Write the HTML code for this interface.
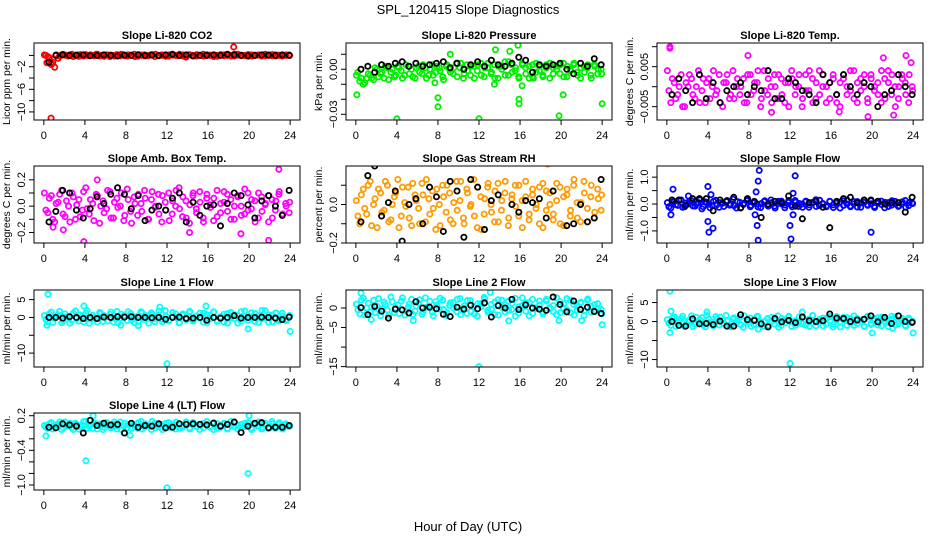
<!DOCTYPE html>
<html><head><meta charset="utf-8">
<style>
body{margin:0;background:#fff;}
svg{display:block;font-family:"Liberation Sans",sans-serif;}
</style></head>
<body>
<svg id="chart" width="936" height="540" viewBox="0 0 936 540" xmlns="http://www.w3.org/2000/svg">
<rect width="936" height="540" fill="#fff"/>
<text x="468" y="14" font-size="13" text-anchor="middle">SPL_120415  Slope Diagnostics</text>
<text x="468" y="531" font-size="13" text-anchor="middle">Hour of Day (UTC)</text>
</svg>
<script>
const xTicks = [0,4,8,12,16,20,24];

const co2Color = [0.1,-0.2,-1.6,-2.1,-0.5,0.1,0.05,-0.1,0.2,0.0,-0.15,0.1,0.15,-0.05,0.0,0.2,-0.1,0.05,0.1,-0.2,0.0,0.15,-0.05,0.1,-0.1,0.05,0.2,-0.15,0.0,0.1,-0.05,0.15,-0.2,0.0,0.1,0.05,-0.1,0.2,0.0,-0.05,0.1,-0.3,0.15,0.0,-0.1,0.05,0.2,-0.05,0.0,0.1,-0.15,0.05,0.1,0.0,-0.1,0.2,0.05,-0.05,0.0,0.15,-0.1,0.05,0.1,0.0,-0.05,0.1,0.15,-0.1,0.0,0.05,0.1,0.0];
const co2ColorB = [0.0,-0.4,-1.2,0.1,-0.1,0.2,0.0,0.1,-0.2,0.05,0.15,-0.1,0.0,0.1,-0.05,0.2,0.0,-0.15,0.1,0.05,-0.1,0.0,0.2,-0.05,0.1,0.0,-0.2,0.15,0.05,-0.1,0.0,0.1,0.2,-0.05,0.0,-0.15,0.1,0.05,0.0,0.2,-0.1,0.0,0.1,-0.05,0.15,0.0,-0.1,0.1,0.05,-0.2,0.0,0.15,-0.05,0.1,0.0,-0.1,0.2,0.05,0.0,-0.15,0.1,0.0,0.05,-0.1,0.2,0.0,-0.05,0.1,0.05,-0.1,0.0,0.1];
const co2Black = [-1.2,0.0,0.1,0.0,0.05,0.1,-0.05,0.0,0.1,0.0,-0.1,0.05,0.0,0.1,0.0,0.05,-0.05,0.1,0.2,0.0,0.1,-0.1,0.0,0.05,0.1,0.0,0.2,0.1,0.0,-0.05,0.0,0.1,0.05,0.0,0.1,0.0];
const co2Out = [[0.7,-11.1],[18.5,1.5],[0.3,-1.3],[0.7,-1.4]];

const presColor = [-0.004,-0.008,-0.01,-0.006,-0.004,-0.007,0.0,-0.003,-0.006,0.001,-0.002,-0.005,0.002,-0.001,-0.004,0.002,0.0,-0.006,0.002,-0.003,0.001,-0.004,0.003,-0.002,0.001,-0.005,0.002,0.0,-0.003,0.004,0.001,-0.006,0.003,-0.004,0.002,-0.001,0.004,-0.005,0.001,-0.003,0.003,-0.006,0.002,0.005,-0.004,0.003,-0.001,-0.005,0.004,0.001,-0.006,0.003,-0.002,0.002,-0.005,0.001,0.004,-0.003,0.0,0.003,-0.005,0.002,-0.001,0.004,-0.004,0.001,-0.002,0.003,-0.006,0.002,0.0,-0.003];
const presColorB = [-0.002,-0.006,-0.009,-0.003,-0.006,0.001,-0.005,-0.002,0.002,-0.007,0.0,-0.004,0.001,-0.006,0.003,-0.003,-0.005,0.001,-0.002,0.003,-0.006,0.0,-0.004,0.002,-0.001,-0.007,0.003,-0.002,0.001,-0.005,0.004,-0.003,-0.001,0.002,-0.006,0.003,-0.004,0.001,0.004,-0.002,-0.006,0.002,0.0,-0.004,0.005,-0.002,0.001,-0.006,0.003,-0.003,0.002,-0.005,0.004,-0.001,-0.004,0.003,-0.006,0.001,0.002,-0.003,0.004,-0.005,0.0,0.003,-0.002,-0.006,0.002,0.001,-0.004,0.003,-0.003,0.0];
const presBlack = [0.0,0.002,-0.002,0.003,0.002,0.004,0.005,0.002,0.004,0.002,0.003,0.004,0.005,0.001,0.004,0.0,0.003,0.005,0.002,0.006,0.003,0.002,0.004,0.008,0.006,-0.002,0.003,0.002,0.003,0.004,0.0,-0.003,0.004,0.002,0.007,0.003];
const presOut = [[0.1,-0.017],[4,-0.033],[8,-0.019],[8,-0.025],[12,-0.033],[13.6,0.013],[15,0.012],[15.9,-0.02],[15.9,-0.023],[19.8,-0.031],[20.2,-0.017],[24,-0.023],[9.2,0.01],[15.8,0.016],[13.5,-0.01],[16.2,-0.011],[7.7,-0.009],[17.3,-0.006]];

const tempColor = [0.004,-0.004,0.001,-0.002,0.003,-0.005,0.0,0.002,-0.003,0.004,-0.001,-0.004,0.002,0.0,-0.002,0.003,-0.005,0.001,-0.003,0.004,0.0,-0.002,0.002,-0.004,0.003,-0.001,0.001,-0.005,0.004,-0.002,0.0,0.003,-0.003,0.002,-0.004,0.001,0.004,-0.002,0.0,-0.005,0.003,-0.001,0.002,-0.003,0.004,0.0,-0.004,0.001,0.003,-0.002,-0.005,0.002,0.0,0.004,-0.003,0.001,-0.001,0.003,-0.004,0.002,0.0,-0.002,0.004,-0.003,0.001,0.003,-0.005,0.0,0.002,-0.002,0.003,-0.001];
const tempColorB = [-0.001,0.002,-0.003,0.0,-0.005,0.001,0.003,-0.002,0.0,-0.004,0.002,0.001,-0.003,0.004,-0.001,-0.004,0.001,0.003,-0.002,-0.003,0.002,0.0,-0.004,0.003,-0.002,0.001,0.004,-0.003,-0.001,0.002,-0.004,0.0,0.003,-0.002,0.001,-0.005,0.002,0.0,0.003,-0.003,-0.001,0.004,-0.004,0.001,-0.002,0.003,0.0,-0.003,0.002,-0.004,0.001,0.003,-0.002,-0.001,0.004,-0.004,0.002,0.0,-0.003,0.003,-0.001,0.001,-0.004,0.002,0.004,-0.002,0.0,-0.003,0.003,0.001,-0.004,0.0];
const tempBlack = [-0.002,0.002,-0.001,-0.004,0.003,-0.003,0.001,-0.004,-0.001,0.0,0.001,-0.002,0.0,-0.001,0.004,-0.003,-0.003,0.002,0.001,-0.001,-0.002,-0.004,0.003,0.001,-0.002,0.003,0.0,-0.002,0.001,0.0,-0.005,-0.002,-0.001,0.003,0.0,-0.002];
const tempOut = [[0.3,0.0100],[0.3,0.0096],[7.9,0.0078],[21.1,0.0072],[19.6,-0.0075],[23.3,0.0078],[23.8,0.006],[10.2,-0.0064],[16.8,-0.0063],[22.1,-0.0071]];

const ambColor = [0.1,-0.05,0.08,-0.12,0.03,0.12,-0.08,0.0,0.1,-0.1,0.05,-0.03,0.14,-0.06,0.02,0.09,-0.13,0.04,-0.02,0.11,-0.09,0.06,0.0,-0.11,0.13,-0.04,0.07,-0.07,0.02,0.12,-0.1,0.05,-0.01,0.09,-0.12,0.03,0.1,-0.06,0.0,0.14,-0.08,0.04,-0.13,0.08,-0.02,0.11,-0.09,0.06,0.01,-0.11,0.12,-0.05,0.03,0.09,-0.1,0.0,0.07,-0.07,0.13,-0.03,0.05,-0.12,0.1,-0.04,0.02,0.08,-0.09,0.04,0.11,-0.06,0.0,0.03];
const ambColorB = [-0.03,0.06,-0.1,0.02,0.09,-0.06,0.04,-0.12,0.07,0.01,-0.08,0.11,-0.02,0.05,-0.11,0.08,0.0,-0.05,0.12,-0.09,0.03,-0.01,0.1,-0.07,0.05,-0.13,0.02,0.09,-0.04,0.06,-0.1,0.11,0.0,-0.06,0.08,-0.03,-0.11,0.04,0.12,-0.02,0.07,-0.09,0.01,0.1,-0.05,0.03,-0.12,0.09,-0.01,0.06,-0.08,0.02,0.11,-0.04,0.05,-0.1,0.08,0.0,-0.06,0.1,-0.02,0.04,-0.09,0.07,0.01,-0.12,0.05,-0.03,0.09,-0.07,0.02,-0.05];
const ambBlack = [-0.12,-0.04,0.12,0.1,-0.03,-0.09,-0.02,0.07,0.02,0.09,0.14,0.09,-0.02,0.08,-0.11,-0.03,0.0,-0.03,0.06,0.1,-0.12,0.03,-0.07,0.0,0.01,-0.15,0.02,0.1,0.08,0.01,-0.09,0.04,0.08,0.0,-0.07,0.12];
const ambOut = [[3.9,-0.27],[22.9,0.28],[21.9,-0.26],[5.2,0.2],[19.2,-0.21],[0.9,-0.16],[1.9,-0.18],[14.2,-0.2]];

const rhColor = [0.02,-0.1,0.08,-0.05,0.12,0.0,-0.12,0.06,-0.03,0.1,-0.08,0.04,0.13,-0.06,0.01,0.09,-0.11,0.05,-0.02,0.11,-0.09,0.03,0.07,-0.13,0.0,0.1,-0.04,0.06,-0.1,0.12,0.02,-0.07,0.08,-0.01,0.13,-0.12,0.04,-0.05,0.09,0.0,-0.09,0.11,-0.03,0.06,-0.11,0.03,0.1,-0.06,0.02,0.12,-0.08,0.05,-0.02,0.09,-0.12,0.07,0.0,-0.05,0.11,-0.1,0.04,0.08,-0.03,0.13,-0.07,0.01,0.06,-0.09,0.1,-0.04,0.03,0.05];
const rhColorB = [-0.06,0.05,-0.02,0.1,-0.11,0.03,0.08,-0.04,0.12,-0.09,0.0,0.06,-0.12,0.09,-0.01,-0.07,0.11,0.02,-0.1,0.05,0.13,-0.05,-0.02,0.08,-0.11,0.04,0.1,-0.08,0.01,-0.03,0.12,-0.1,0.06,0.0,-0.06,0.09,-0.13,0.03,0.11,-0.04,0.07,-0.09,0.02,0.12,-0.07,0.05,-0.01,0.1,-0.12,0.04,-0.05,0.08,0.0,-0.1,0.11,-0.03,0.06,-0.08,0.02,0.09,-0.11,0.05,-0.06,0.1,0.01,-0.09,0.12,-0.02,0.04,-0.07,0.08,-0.03];
const rhBlack = [-0.09,0.15,0.2,-0.06,0.01,0.07,-0.19,0.0,0.03,-0.1,0.09,0.04,-0.14,0.12,0.07,-0.17,0.13,0.09,-0.13,0.02,0.05,-0.24,0.0,-0.04,0.02,0.01,0.03,-0.07,0.07,-0.22,-0.11,-0.1,0.0,-0.09,-0.07,0.13];
const rhOut = [[0.6,0.22],[11.5,0.25],[14.7,-0.27],[16.6,-0.26],[21.9,0.23],[18.7,0.21],[5.2,-0.25],[11.4,-0.24]];

const sfColor = [0.05,-0.15,0.1,-0.05,0.15,-0.1,0.0,0.12,-0.08,0.05,-0.18,0.08,0.0,-0.06,0.14,-0.12,0.03,0.1,-0.04,0.18,-0.15,0.06,-0.02,0.12,-0.1,0.04,0.0,-0.13,0.09,-0.05,0.15,-0.08,0.02,0.11,-0.14,0.06,-0.03,0.13,-0.09,0.0,0.08,-0.12,0.05,0.16,-0.06,0.02,-0.1,0.1,-0.03,0.07,-0.15,0.12,0.0,-0.07,0.09,-0.11,0.04,0.14,-0.05,0.01,-0.13,0.1,-0.02,0.06,-0.09,0.12,0.0,-0.06,0.08,-0.12,0.05,0.02];
const sfColorB = [-0.1,0.08,-0.02,0.14,-0.12,0.04,0.1,-0.07,0.0,0.15,-0.1,0.06,-0.14,0.1,-0.03,0.05,-0.09,0.13,0.0,-0.06,0.09,-0.13,0.03,0.16,-0.05,0.08,-0.11,0.02,0.12,-0.08,0.05,-0.15,0.1,0.0,-0.04,0.13,-0.1,0.07,0.02,-0.12,0.11,-0.03,0.06,-0.09,0.14,0.0,-0.07,0.1,-0.13,0.04,0.08,-0.05,0.15,-0.1,0.01,0.09,-0.12,0.06,-0.02,0.12,-0.08,0.03,0.11,-0.14,0.05,-0.04,0.1,-0.09,0.0,0.13,-0.06,0.04];
const sfBlack = [0.15,0.15,-0.05,0.2,0.2,0.2,-0.25,0.15,0.1,0.25,-0.15,0.2,0.1,-0.5,0.0,0.1,0.05,0.3,-0.08,-0.55,0.05,0.1,-0.12,-0.88,0.1,0.2,0.25,0.05,0.15,0.15,0.1,0.0,0.05,0.05,-0.3,0.25];
const sfOut = [[0.4,-0.4],[0.6,0.55],[4,0.65],[4,-0.65],[4.1,-1.05],[4.5,-0.9],[8.7,0.45],[8.9,0.85],[9,1.25],[8.9,-1.35],[8.8,-0.8],[8.6,-0.4],[12,-0.8],[12.1,-1.3],[12.5,1.05],[12.3,-0.4],[19.9,-1.05],[12.3,0.4],[2.1,0.3],[4.3,0.35]];

const l1Color = [0.5,-1.2,1.5,-0.3,0.8,-1.5,1.0,0.0,-0.8,1.8,-1.0,0.3,1.2,-1.6,0.6,-0.4,1.4,-1.1,0.2,0.9,-1.3,1.7,-0.2,0.5,-0.9,1.1,-1.4,0.4,1.6,-0.6,0.0,1.3,-1.2,0.7,-0.5,1.9,-1.0,0.2,1.0,-1.5,0.6,-0.1,1.5,-0.8,0.3,1.2,-1.3,0.8,-0.4,1.6,-1.1,0.1,0.9,-1.6,1.4,-0.3,0.5,-1.0,1.8,-0.7,0.2,1.1,-1.4,2.0,-0.2,0.7,-1.2,1.3,-0.5,0.4,-0.9,0.6];
const l1ColorB = [-0.6,1.0,-1.4,0.4,1.7,-0.9,0.2,-1.6,1.2,-0.3,0.7,-1.2,1.9,-0.5,0.0,-1.3,1.1,0.5,-1.0,1.5,-0.2,-1.5,0.9,0.3,1.6,-0.8,0.1,-1.1,1.3,0.6,-1.6,0.8,-0.4,1.8,-1.2,0.3,-0.7,1.4,0.0,-1.4,1.0,-0.6,1.7,-1.0,0.4,-0.2,1.2,-1.5,0.6,1.5,-0.9,0.2,-1.3,1.1,-0.1,0.8,-1.6,1.6,0.3,-0.8,1.3,-1.1,0.5,-0.4,1.9,-1.3,0.7,0.0,-1.0,1.2,-0.6,0.2];
const l1Black = [0.0,0.0,-0.2,0.2,0.0,-0.3,0.0,-0.3,0.1,0.0,0.2,0.1,0.2,0.0,0.0,-0.1,0.0,-0.5,0.0,0.1,-0.3,-0.2,0.0,-0.8,0.0,-0.2,0.0,0.5,-0.2,0.0,0.0,0.1,0.0,-0.2,-0.6,0.1];
const l1Out = [[0.4,6.5],[0.3,-2.2],[12,-13],[11.3,2.9],[19.9,-3.2],[24,-3.9],[3.9,3.2],[15.8,3.2],[7.5,-2.2],[9.2,-2.3]];

const l2Color = [1.0,-1.5,2.5,0.0,-1.0,2.0,0.5,-2.0,1.5,-0.5,2.8,-1.2,0.8,1.8,-1.8,0.2,2.2,-0.8,1.2,-1.6,2.6,0.4,-1.1,1.6,-0.3,2.0,-1.9,0.7,1.4,-0.9,2.4,0.0,-1.4,1.9,0.3,-2.1,1.1,2.7,-0.6,0.9,-1.7,2.1,0.2,-1.0,1.7,-0.4,2.5,-1.3,0.6,1.3,-2.0,2.2,-0.2,0.8,-1.5,1.8,0.1,-0.9,2.6,-1.2,1.0,-0.5,2.0,-1.8,0.5,1.5,-0.7,2.3,-1.1,0.9,-0.2,-1.5];
const l2ColorB = [-0.5,2.0,-1.8,1.2,0.3,-1.2,2.4,-0.2,0.9,-1.9,1.6,0.0,-1.4,2.6,-0.7,1.0,-1.6,0.5,2.1,-1.0,0.2,1.7,-2.0,0.8,2.5,-0.4,-1.3,1.3,0.0,2.2,-1.7,0.6,1.9,-0.9,-1.5,1.1,0.4,2.3,-1.1,-0.3,1.5,-1.8,2.0,0.7,-0.6,1.2,-2.1,0.3,2.6,-0.8,1.4,-1.4,0.1,1.8,-1.0,2.2,-0.2,0.6,-1.7,1.6,0.0,2.4,-1.2,0.9,-0.5,1.3,-1.9,2.0,0.4,-0.9,1.1,-0.4];
const l2Black = [0.1,-1.7,0.4,-0.8,-2.6,-0.3,-0.5,-1.3,1.6,0.0,0.2,-0.2,-1.6,-2.2,0.2,-0.3,0.7,-0.2,1.3,-2.3,0.6,0.0,2.2,-0.4,0.8,0.0,-0.3,-0.6,2.8,0.9,-1.0,1.8,-0.4,0.2,-0.9,-1.4];
const l2Out = [[0.5,3.8],[13.1,4],[12,-15],[24,-4.3],[1.5,-3],[5.6,-3.2],[14.9,-3.3],[22,-3.2],[19.8,-3.2]];

const l3Color = [0.5,-1.0,1.2,-0.3,0.8,-1.3,0.2,1.5,-0.7,0.0,1.0,-1.4,0.6,-0.2,1.3,-0.9,0.3,1.6,-1.1,0.7,-0.5,1.1,-1.5,0.4,0.9,-0.8,1.4,-0.1,-1.2,0.8,0.1,-0.6,1.5,-1.0,0.5,1.2,-1.3,0.2,-0.4,1.0,-0.9,0.6,1.6,-1.1,0.0,0.9,-0.7,1.3,-1.4,0.4,-0.2,1.1,-1.0,0.7,1.5,-0.5,0.2,-1.3,1.2,-0.8,0.3,1.0,-1.1,0.6,-0.3,1.4,-0.9,0.1,0.8,-1.2,0.5,0.0];
const l3ColorB = [-0.4,0.9,-1.2,0.3,1.4,-0.6,0.0,-1.3,1.1,0.5,-0.9,1.6,-0.2,-1.1,0.7,1.2,-0.5,0.2,-1.4,1.0,0.4,-0.8,1.5,-0.1,-1.2,0.6,1.3,-0.7,0.1,-1.0,1.1,0.4,-1.5,0.8,-0.3,1.4,0.0,-0.9,1.2,-0.6,0.3,-1.3,1.6,-0.2,0.6,-1.1,0.9,0.2,-0.7,1.3,-1.4,0.5,1.0,-0.4,-1.0,0.8,0.1,-1.2,1.4,-0.5,0.7,-0.9,1.1,0.0,-1.3,0.6,1.2,-0.6,0.3,-1.0,0.9,-0.3];
const l3Black = [0.0,-1.0,-1.2,0.7,-0.6,-0.5,-0.8,0.1,-1.2,-1.2,1.8,0.5,0.3,-0.6,-1.4,0.8,-0.1,0.3,-0.3,1.2,0.2,0.0,0.2,2.0,0.9,0.8,0.0,0.4,0.6,1.5,-0.1,1.1,-0.5,1.5,0.0,-0.2];
const l3Out = [[0.3,8],[0.3,-2.9],[0.4,2.7],[12,-11],[20,-3],[24,-3],[8.9,-2],[3.9,2.5],[13.2,2.5],[22,-1.8]];

const l4Color = [0.03,-0.02,0.08,0.0,0.05,-0.04,0.09,0.02,-0.01,0.07,-0.03,0.04,0.1,0.01,-0.02,0.06,0.03,-0.04,0.08,0.0,0.05,-0.03,0.09,0.02,-0.01,0.06,0.04,-0.02,0.1,0.0,0.03,-0.04,0.07,0.01,0.05,-0.02,0.08,0.03,-0.03,0.06,0.0,0.09,-0.01,0.04,0.02,-0.04,0.07,0.05,0.0,0.08,-0.02,0.03,0.06,-0.03,0.1,0.01,0.04,-0.01,0.07,0.02,-0.04,0.05,0.09,0.0,0.03,-0.02,0.06,0.01,0.08,-0.03,0.04,0.02];
const l4ColorB = [0.0,0.06,-0.03,0.04,0.09,-0.01,0.02,0.07,-0.04,0.05,0.01,0.1,-0.02,0.03,0.08,-0.03,0.06,0.0,0.04,-0.01,0.09,0.02,-0.04,0.07,0.05,-0.02,0.01,0.08,-0.03,0.06,0.03,0.1,-0.01,0.04,-0.04,0.07,0.0,0.05,0.09,-0.02,0.03,0.06,-0.03,0.08,0.01,0.04,-0.01,0.1,0.02,-0.04,0.06,0.0,0.07,-0.02,0.03,0.09,-0.03,0.05,0.01,0.08,-0.01,0.04,0.02,-0.03,0.07,0.0,0.1,-0.02,0.05,0.03,0.06,0.01];
const l4Black = [0.0,-0.01,0.06,0.04,0.02,-0.1,0.12,0.03,0.07,0.04,0.05,-0.1,0.07,0.0,0.03,0.02,0.06,-0.01,0.0,0.06,0.05,0.06,0.05,0.04,0.07,0.02,0.05,0.09,-0.09,0.02,0.07,0.08,-0.01,0.0,0.0,0.03];
const l4Out = [[0.2,-0.15],[4.1,-0.58],[4.8,0.2],[12,-1.05],[19.9,-0.8],[20,0.2],[8.4,-0.14]];

const panels = [
 {name:'co2',title:'Slope Li-820 CO2',ylab:'Licor ppm per min.',L:34,T:43,ylim:[-11.43,2.2],ticks:[0,-2,-4,-6,-8,-10],labels:['-2','-6','-10'],col:'#ff0000',c:co2Color,c2:co2ColorB,b:co2Black,o:co2Out},
 {name:'pressure',title:'Slope Li-820 Pressure',ylab:'kPa per min.',L:346,T:43,ylim:[-0.0338,0.0175],ticks:[0.01,0,-0.01,-0.02,-0.03],labels:['0.00','-0.03'],col:'#00ee00',c:presColor,c2:presColorB,b:presBlack,o:presOut},
 {name:'temp',title:'Slope Li-820 Temp.',ylab:'degrees C per min.',L:657,T:43,ylim:[-0.00833,0.01092],ticks:[0.01,0.005,0,-0.005],labels:['0.005','-0.005'],col:'#ff00ff',c:tempColor,c2:tempColorB,b:tempBlack,o:tempOut},
 {name:'amb-box-temp',title:'Slope Amb. Box Temp.',ylab:'degrees C per min.',L:34,T:166,ylim:[-0.28,0.305],ticks:[0.2,0.1,0,-0.1,-0.2],labels:['0.2','0.0','-0.2'],col:'#ff00ff',c:ambColor,c2:ambColorB,b:ambBlack,o:ambOut},
 {name:'gas-stream-rh',title:'Slope Gas Stream RH',ylab:'percent per min.',L:346,T:166,ylim:[-0.2,0.2],ticks:[0.1,0,-0.1,-0.2],labels:['0.0','-0.2'],col:'#ff9a00',c:rhColor,c2:rhColorB,b:rhBlack,o:rhOut},
 {name:'sample-flow',title:'Slope Sample Flow',ylab:'ml/min per min.',L:657,T:166,ylim:[-1.45,1.415],ticks:[1,0.5,0,-0.5,-1],labels:['1.0','0.0','-1.0'],col:'#0000ff',c:sfColor,c2:sfColorB,b:sfBlack,o:sfOut},
 {name:'line1-flow',title:'Slope Line 1 Flow',ylab:'ml/min per min.',L:34,T:290,ylim:[-13.9,7.7],ticks:[5,0,-5,-10],labels:['5','0','-10'],col:'#00ffff',c:l1Color,c2:l1ColorB,b:l1Black,o:l1Out},
 {name:'line2-flow',title:'Slope Line 2 Flow',ylab:'ml/min per min.',L:346,T:290,ylim:[-15.1,4.6],ticks:[0,-5,-10,-15],labels:['0','-5','-15'],col:'#00ffff',c:l2Color,c2:l2ColorB,b:l2Black,o:l2Out},
 {name:'line3-flow',title:'Slope Line 3 Flow',ylab:'ml/min per min.',L:657,T:290,ylim:[-11.96,8.3],ticks:[5,0,-5,-10],labels:['5','0','-10'],col:'#00ffff',c:l3Color,c2:l3ColorB,b:l3Black,o:l3Out},
 {name:'line4-flow',title:'Slope Line 4 (LT) Flow',ylab:'ml/min per min.',L:34,T:413,ylim:[-1.087,0.247],ticks:[0.2,0,-0.2,-0.4,-0.6,-0.8,-1.0],labels:['0.2','-0.4','-1.0'],col:'#00ffff',c:l4Color,c2:l4ColorB,b:l4Black,o:l4Out}
];

const NS='http://www.w3.org/2000/svg';
const svg=document.getElementById('chart');
function mk(tag,attrs,parent){const e=document.createElementNS(NS,tag);for(const k in attrs)e.setAttribute(k,attrs[k]);(parent||svg).appendChild(e);return e;}
const W=266,H=77;
function fmt(v){return String(v).replace('-','\u2212');}

panels.forEach((p,pi)=>{
  const g=mk('g',{});
  
  
  const xs=v=>p.L+(v+0.96)/25.92*W;
  const ys=v=>p.T+H-(v-p.ylim[0])/(p.ylim[1]-p.ylim[0])*H;
  const clipId='clip'+pi;
  const cp=mk('clipPath',{id:clipId},g);
  mk('rect',{x:p.L,y:p.T,width:W,height:H},cp);
  const t=mk('text',{x:p.L+W/2,y:p.T-4,'font-size':11,'font-weight':'bold','text-anchor':'middle'},g);
  t.textContent=p.title;
  
  
  const yl=mk('text',{x:0,y:0,'font-size':10.5,'text-anchor':'middle',transform:`translate(${p.L-24},${p.T+H/2}) rotate(-90)`},g);
  yl.textContent=p.ylab;
  
  
  const pts=mk('g',{'clip-path':`url(#${clipId})`,fill:'none','stroke-width':1.8},g);
  
  
  const n=p.c.length;
  p.c.forEach((v,i)=>{
    const c=mk('circle',{cx:xs(0.05+23.9*i/(n-1)),cy:ys(v),r:2.6,stroke:p.col},pts);
    
    
  });
  const n2=p.c2.length;
  p.c2.forEach((v,i)=>{
    const c=mk('circle',{cx:xs(0.2+23.7*i/(n2-1)),cy:ys(v),r:2.6,stroke:p.col},pts);
    
    
  });
  p.o.forEach(d=>{
    const c=mk('circle',{cx:xs(d[0]),cy:ys(d[1]),r:2.6,stroke:p.col},pts);
    
    
  });
  const nb=p.b.length;
  p.b.forEach((v,i)=>{
    const c=mk('circle',{cx:xs(0.5+23.4*i/(nb-1)),cy:ys(v),r:2.6,stroke:'#000'},pts);
    
    
  });
  const box=mk('rect',{x:p.L,y:p.T,width:W,height:H,fill:'none',stroke:'#000','stroke-width':1},g);
  
  
  const B=p.T+H;
  mk('line',{x1:xs(0),x2:xs(24),y1:B,y2:B,stroke:'#000'},g);
  xTicks.forEach(v=>{
    mk('line',{x1:xs(v),x2:xs(v),y1:B,y2:B+5,stroke:'#000'},g);
    const tl=mk('text',{x:xs(v),y:B+19,'font-size':11,'text-anchor':'middle'},g);
    tl.textContent=v;
    
    
  });
  mk('line',{x1:p.L,x2:p.L,y1:ys(p.ticks[0]),y2:ys(p.ticks[p.ticks.length-1]),stroke:'#000'},g);
  p.ticks.forEach(v=>{
    mk('line',{x1:p.L-5,x2:p.L,y1:ys(v),y2:ys(v),stroke:'#000'},g);
  });
  p.labels.forEach(s=>{
    const v=parseFloat(s);
    const tl=mk('text',{x:0,y:0,'font-size':11,'text-anchor':'middle',transform:`translate(${p.L-9},${ys(v)}) rotate(-90)`},g);
    tl.textContent=fmt(s);
    
    
  });
});
</script>
</body></html>
